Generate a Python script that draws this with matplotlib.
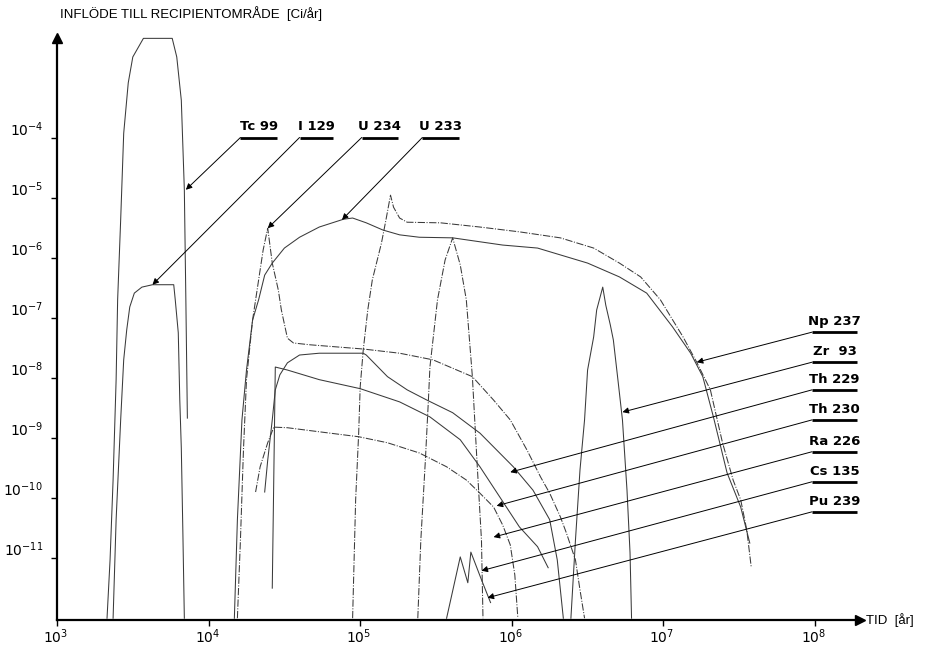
import numpy as np
import matplotlib.pyplot as plt

plt.rcParams['font.family'] = ['DejaVu Sans']
plt.rcParams['mathtext.fontset'] = 'dejavusans'

# log10(tid [år]) and log10(inflöde [Ci/år])
tc99_t = [3.33, 3.35, 3.37, 3.39, 3.40, 3.42, 3.44, 3.47, 3.50, 3.57, 3.76, 3.79, 3.82, 3.84, 3.85, 3.86]
tc99_v = [-12.0, -11.03, -9.70, -8.03, -6.70, -5.37, -3.93, -3.09, -2.66, -2.35, -2.35, -2.66, -3.38, -4.87, -6.70, -8.67]

i129_t = [3.37, 3.39, 3.42, 3.44, 3.46, 3.48, 3.51, 3.56, 3.63, 3.77, 3.78, 3.80, 3.81, 3.82, 3.83, 3.84]
i129_v = [-12.0, -10.36, -8.70, -7.70, -7.20, -6.82, -6.59, -6.49, -6.45, -6.45, -6.70, -7.25, -8.37, -9.17, -10.53, -12.0]

u234_t = [4.19, 4.21, 4.23, 4.25, 4.29, 4.33, 4.36, 4.39, 4.42, 4.46, 4.48, 4.52, 4.56, 4.67, 5.02, 5.26,
          5.48, 5.74, 5.88, 5.99, 6.10, 6.19, 6.25, 6.32, 6.36, 6.42, 6.45, 6.48]
u234_v = [-12.0, -10.70, -9.20, -8.03, -7.04, -6.37, -5.87, -5.51, -6.09, -6.54, -6.87, -7.34, -7.42, -7.45, -7.52, -7.59,
          -7.70, -7.98, -8.37, -8.70, -9.20, -9.65, -9.92, -10.31, -10.58, -11.03, -11.53, -12.0]

u233_t = [4.17, 4.19, 4.22, 4.25, 4.29, 4.33, 4.37, 4.42, 4.50, 4.60, 4.73, 4.89, 4.95, 5.04, 5.15, 5.26,
          5.39, 5.61, 5.94, 6.17, 6.50, 6.71, 6.89, 7.06, 7.18, 7.26, 7.33, 7.42, 7.51, 7.57]
u233_v = [-12.0, -10.36, -8.70, -7.87, -7.04, -6.70, -6.29, -6.09, -5.84, -5.66, -5.49, -5.36, -5.34, -5.42, -5.54, -5.62,
          -5.66, -5.67, -5.79, -5.84, -6.09, -6.32, -6.59, -7.15, -7.59, -7.98, -8.65, -9.58, -10.15, -10.75]

np237_t = [4.95, 4.97, 4.99, 5.00, 5.02, 5.05, 5.08, 5.14, 5.17, 5.20, 5.22, 5.26, 5.31, 5.53, 5.79, 6.05,
           6.32, 6.54, 6.71, 6.85, 6.98, 7.13, 7.22, 7.31, 7.39, 7.46, 7.51, 7.55, 7.58]
np237_v = [-12.0, -10.03, -8.92, -8.15, -7.54, -6.87, -6.37, -5.76, -5.37, -4.96, -5.16, -5.34, -5.41, -5.42, -5.49, -5.57,
           -5.67, -5.84, -6.09, -6.32, -6.70, -7.32, -7.74, -8.20, -9.08, -9.70, -10.03, -10.53, -11.16]

zr93_t = [6.39, 6.42, 6.45, 6.48, 6.50, 6.54, 6.56, 6.60, 6.62, 6.65, 6.67, 6.70, 6.73, 6.76, 6.78, 6.79]
zr93_v = [-12.0, -10.70, -9.53, -8.70, -7.87, -7.32, -6.87, -6.49, -6.79, -7.12, -7.37, -8.03, -8.70, -9.87, -10.91, -12.0]

cs135_t = [5.38, 5.40, 5.43, 5.45, 5.46, 5.51, 5.56, 5.61, 5.66, 5.70, 5.74, 5.77, 5.80, 5.81]
cs135_v = [-12.0, -10.70, -9.37, -8.37, -7.82, -6.70, -6.04, -5.67, -6.12, -6.70, -7.98, -9.37, -10.70, -12.0]

th229_t = [4.37, 4.39, 4.42, 4.44, 4.47, 4.52, 4.60, 4.73, 5.02, 5.04, 5.18, 5.31, 5.44, 5.61, 5.79, 6.01,
           6.14, 6.25, 6.30, 6.34]
th229_v = [-9.90, -9.37, -8.70, -8.20, -7.95, -7.75, -7.62, -7.59, -7.59, -7.62, -7.98, -8.20, -8.37, -8.58, -8.92, -9.48,
           -9.87, -10.36, -11.03, -12.0]

th230_t = [4.31, 4.34, 4.39, 4.43, 4.52, 4.80, 4.99, 5.18, 5.39, 5.57, 5.70, 5.79, 5.88, 5.94, 5.99, 6.02, 6.04]
th230_v = [-9.90, -9.48, -9.08, -8.82, -8.83, -8.92, -8.98, -9.08, -9.25, -9.48, -9.70, -9.92, -10.15, -10.45, -10.78, -11.28, -12.0]

ra226_t = [4.42, 4.44, 4.52, 4.73, 5.00, 5.26, 5.46, 5.66, 5.79, 5.92, 6.05, 6.17, 6.24]
ra226_v = [-11.50, -7.82, -7.87, -8.03, -8.18, -8.40, -8.65, -9.03, -9.48, -9.98, -10.48, -10.81, -11.16]

pu239_t = [5.57, 5.66, 5.71, 5.73, 5.80, 5.86]
pu239_v = [-12.0, -10.98, -11.41, -10.90, -11.36, -11.74]

solid = '-'
dashdot = (0, (7, 1.5, 1, 1.5))
curves = [
    (tc99_t, tc99_v, solid), (i129_t, i129_v, solid), (u234_t, u234_v, dashdot),
    (u233_t, u233_v, solid), (np237_t, np237_v, dashdot), (zr93_t, zr93_v, solid),
    (cs135_t, cs135_v, dashdot), (th229_t, th229_v, solid), (th230_t, th230_v, dashdot),
    (ra226_t, ra226_v, solid), (pu239_t, pu239_v, solid),
]

# leader labels: name, underline start (log t, log v), underline end log t, arrow tip (log t, log v)
top_names = ['Tc 99', 'I 129', 'U 234', 'U 233']
top_start = [4.21, 4.60, 5.01, 5.41]
top_end = [4.45, 4.82, 5.25, 5.65]
top_tips = [(3.85, -4.87), (3.63, -6.45), (4.39, -5.51), (4.88, -5.37)]

right_names = ['Np 237', 'Zr  93', 'Th 229', 'Th 230', 'Ra 226', 'Cs 135', 'Pu 239']
right_levels = [-7.24, -7.74, -8.20, -8.70, -9.23, -9.73, -10.23]
right_tips = [(7.22, -7.74), (6.73, -8.57), (5.99, -9.57), (5.90, -10.13),
              (5.88, -10.65), (5.80, -11.21), (5.84, -11.66)]

fig = plt.figure(figsize=(9.51, 6.46), dpi=100)
ax = fig.add_axes([57 / 951, 26 / 646, 803 / 951, 582 / 646])
ax.set_xscale('log')
ax.set_yscale('log')
ax.set_xlim(10 ** 3, 10 ** 8.297)
ax.set_ylim(10 ** -12.03, 10 ** -2.344)

ink = '#3a3a3a'
for t, v, ls in curves:
    ax.plot(10 ** np.array(t), 10 ** np.array(v), color=ink, lw=0.75, ls=ls, clip_on=False)

# axes drawn as arrows
for s in ['top', 'right']:
    ax.spines[s].set_visible(False)
for s in ['left', 'bottom']:
    ax.spines[s].set_linewidth(1.6)
ax.plot([0], [1], '^', ms=7, color='k', transform=ax.transAxes, clip_on=False)
ax.plot([1], [0], '>', ms=7, color='k', transform=ax.transAxes, clip_on=False)

ax.minorticks_off()
ax.set_xticks([10.0 ** e for e in range(3, 9)], labels=[])
ax.set_yticks([10.0 ** -k for k in range(4, 12)], labels=[])
ax.tick_params(length=4, width=1, direction='out')

for e in range(3, 9):
    ax.annotate(rf'$10^{{{e}}}$', (10.0 ** e, 10 ** -12.03), xytext=(-1, -5),
                textcoords='offset points', ha='center', va='top', fontsize=10)
for k in range(4, 12):
    ax.annotate(rf'$10^{{-{k}}}$', (10 ** 3, 10.0 ** -k), xytext=(-10, -1),
                textcoords='offset points', ha='right', va='bottom', fontsize=10)

fig.text(60 / 951, 1 - 14 / 646, 'INFLÖDE TILL RECIPIENTOMRÅDE  [Ci/år]',
         fontsize=9.5, family='Liberation Sans', va='center', ha='left')
fig.text(866 / 951, 1 - 620 / 646, 'TID  [år]', fontsize=9.5, family='Liberation Sans',
         va='center', ha='left')

arrow = dict(arrowstyle='-|>', lw=0.7, color='k', mutation_scale=9, shrinkA=0, shrinkB=0)

for name, x0, x1, tip in zip(top_names, top_start, top_end, top_tips):
    ax.plot([10 ** x0, 10 ** x1], [1e-4, 1e-4], color='k', lw=2, solid_capstyle='butt')
    ax.text(10 ** ((x0 + x1) / 2), 10 ** -3.93, name, ha='center', va='bottom',
            fontsize=9.5, fontweight='bold')
    ax.annotate('', xy=(10 ** tip[0], 10 ** tip[1]), xytext=(10 ** x0, 1e-4), arrowprops=arrow)

for name, lv, tip in zip(right_names, right_levels, right_tips):
    ax.plot([10 ** 7.98, 10 ** 8.28], [10 ** lv, 10 ** lv], color='k', lw=2,
            solid_capstyle='butt', clip_on=False)
    ax.text(10 ** 8.13, 10 ** (lv + 0.07), name, ha='center', va='bottom',
            fontsize=9.5, fontweight='bold')
    ax.annotate('', xy=(10 ** tip[0], 10 ** tip[1]), xytext=(10 ** 7.98, 10 ** lv), arrowprops=arrow)

fig.savefig('out.png', dpi=100)
